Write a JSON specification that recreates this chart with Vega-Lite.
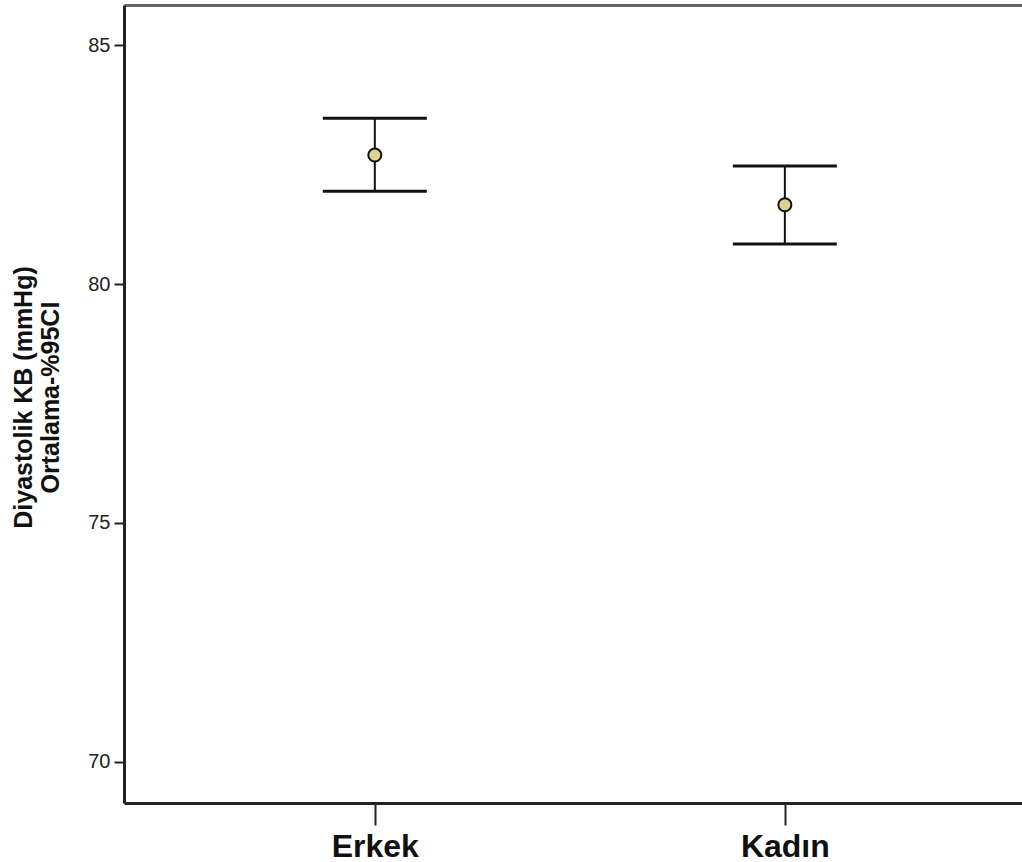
{
  "$schema": "https://vega.github.io/schema/vega-lite/v6.json",
  "autosize": {"type": "none"},
  "padding": {"left": 124, "top": 5, "right": 0, "bottom": 59},
  "width": 898,
  "height": 798,
  "background": "white",
  "config": {
    "view": {"stroke": null},
    "font": "Liberation Sans"
  },
  "data": {
    "values": [
      {"cinsiyet": "Erkek", "ortalama": 82.70, "alt": 81.94, "ust": 83.47},
      {"cinsiyet": "Kadın", "ortalama": 81.66, "alt": 80.84, "ust": 82.47}
    ]
  },
  "resolve": {"axis": {"x": "independent"}},
  "layer": [
    {
      "mark": {"type": "rule", "color": "#111", "strokeWidth": 2},
      "encoding": {
        "x": {
          "field": "cinsiyet",
          "type": "nominal",
          "sort": ["Erkek", "Kadın"],
          "scale": {"type": "point", "padding": 0.595, "align": 0.514},
          "axis": {
            "title": null,
            "labelAngle": 0,
            "labelFont": "Liberation Sans",
            "labelFontWeight": "bold",
            "labelFontSize": 32,
            "labelColor": "#111",
            "labelPadding": 6,
            "tickSize": 22,
            "tickWidth": 2,
            "tickColor": "#222",
            "domainColor": "#222",
            "domainWidth": 3,
            "grid": false
          }
        },
        "y": {
          "field": "alt",
          "type": "quantitative",
          "scale": {"domain": [69.14, 85.84], "nice": false, "zero": false},
          "axis": {
            "title": ["Diyastolik KB (mmHg)", "Ortalama-%95CI"],
            "titleFont": "Liberation Sans",
            "titleFontWeight": "bold",
            "titleFontSize": 25,
            "titleLineHeight": 27,
            "titleColor": "#111",
            "titleAngle": -90,
            "titleAlign": "center",
            "titleBaseline": "top",
            "titleX": -113,
            "titleY": 392,
            "values": [70, 75, 80, 85],
            "labelFont": "Liberation Sans",
            "labelFontSize": 20,
            "labelColor": "#222",
            "labelPadding": 4,
            "tickSize": 10,
            "tickWidth": 2,
            "tickColor": "#222",
            "domainColor": "#222",
            "domainWidth": 3,
            "grid": false
          }
        },
        "y2": {"field": "ust"}
      }
    },
    {
      "mark": {"type": "tick", "color": "#111", "size": 104, "thickness": 3, "orient": "horizontal", "opacity": 1},
      "encoding": {
        "x": {"field": "cinsiyet", "type": "nominal", "sort": ["Erkek", "Kadın"], "axis": null},
        "y": {"field": "ust", "type": "quantitative"}
      }
    },
    {
      "mark": {"type": "tick", "color": "#111", "size": 104, "thickness": 3, "orient": "horizontal", "opacity": 1},
      "encoding": {
        "x": {"field": "cinsiyet", "type": "nominal", "sort": ["Erkek", "Kadın"], "axis": null},
        "y": {"field": "alt", "type": "quantitative"}
      }
    },
    {
      "mark": {"type": "point", "filled": true, "shape": "circle", "size": 170, "fill": "#dcd292", "stroke": "#111", "strokeWidth": 2, "opacity": 1},
      "encoding": {
        "x": {"field": "cinsiyet", "type": "nominal", "sort": ["Erkek", "Kadın"], "axis": null},
        "y": {"field": "ortalama", "type": "quantitative"}
      }
    },
    {
      "mark": {"type": "rule", "opacity": 0},
      "encoding": {
        "x": {
          "field": "cinsiyet",
          "type": "nominal",
          "sort": ["Erkek", "Kadın"],
          "axis": {"orient": "top", "labels": false, "ticks": false, "title": null, "domainColor": "#666", "domainWidth": 3, "grid": false}
        }
      }
    }
  ]
}
